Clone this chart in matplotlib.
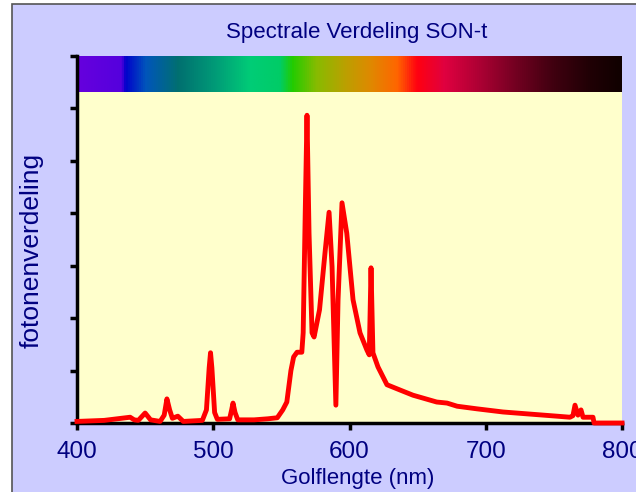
import matplotlib
matplotlib.use('Agg')
import matplotlib.pyplot as plt
from matplotlib.colors import LinearSegmentedColormap
from matplotlib.patches import Rectangle
import numpy as np

# golflengte (nm) en fotonenverdeling
golflengte = [400, 420, 439, 442, 445, 450, 454, 461, 464, 466, 468, 470, 474, 478,
              492, 495, 497, 498, 499, 501, 503, 512, 513.5, 514.5, 516, 518,
              530, 540, 547, 551, 554, 557, 559, 561.5, 565, 566, 567.5, 568.8,
              570.3, 572.5, 574, 578, 582, 585, 587.2, 590, 591.6, 594.5, 598,
              602.6, 607.7, 612.8, 614.5, 615.8, 617.2, 620.9, 627.5, 637, 646.6,
              664, 671.6, 679, 693.6, 712.7, 732.5, 752.3, 761.8, 764, 765.5,
              767.7, 769.9, 771.4, 778.7, 779.5, 800]
fotonen = [0.03, 0.05, 0.11, 0.06, 0.05, 0.19, 0.06, 0.03, 0.15, 0.46, 0.25, 0.09, 0.13, 0.03,
           0.05, 0.25, 1.05, 1.34, 1.05, 0.20, 0.07, 0.08, 0.25, 0.38, 0.20, 0.06,
           0.06, 0.08, 0.10, 0.25, 0.40, 1.00, 1.26, 1.35, 1.35, 1.72, 4.0, 5.87,
           3.62, 1.72, 1.64, 2.16, 3.24, 4.02, 2.98, 0.34, 2.35, 4.20, 3.62,
           2.35, 1.72, 1.39, 1.30, 2.96, 1.34, 1.07, 0.73, 0.63, 0.53,
           0.40, 0.38, 0.32, 0.27, 0.21, 0.17, 0.13, 0.11, 0.14, 0.34,
           0.15, 0.25, 0.11, 0.11, 0.0, 0.0]

# kleuren van de spectrumbalk
spectrum_nm = [400, 432, 435, 450, 474, 500, 527, 549, 558, 576, 597, 616, 635, 650,
               670, 697, 724, 750, 777, 800]
spectrum_kleur = ['#6600dd', '#5500dd', '#0000cc', '#0055bb', '#007070', '#009977',
                  '#00cc77', '#00cc66', '#22cc00', '#88bb00', '#bba000', '#e08800',
                  '#ff6600', '#ff0011', '#e00040', '#aa0033', '#700020', '#400010',
                  '#200005', '#100000']

xticks = [400, 500, 600, 700, 800]
yticks = list(range(8))

navy = '#000080'
smal = ['Liberation Sans Narrow', 'Liberation Sans', 'DejaVu Sans']
plt.rcParams['font.family'] = smal

fig = plt.figure(figsize=(6.36, 4.92), dpi=100)
fig.patch.set_facecolor('white')
achtergrond = Rectangle((12 / 636, -0.1), 1.2, 1.1 - 4 / 492, transform=fig.transFigure,
                        facecolor='#ccccff', edgecolor='#555555', linewidth=1.2, zorder=-10)
fig.add_artist(achtergrond)

ax = fig.add_axes([77 / 636, 1 - 423 / 492, 545 / 636, 367 / 492])
ax.set_zorder(1)
ax.set_facecolor('#ffffcc')

pos = [(n - 400) / 400 for n in spectrum_nm]
cmap = LinearSegmentedColormap.from_list('spec', list(zip(pos, spectrum_kleur)))
ax.imshow(np.linspace(0, 1, 512).reshape(1, -1), cmap=cmap, aspect='auto',
          extent=[400, 800, 6.31, 7], zorder=1)

ax.plot(golflengte, fotonen, color='#ff0000', linewidth=3.5, solid_joinstyle='round',
        clip_on=False, zorder=3)

ax.set_xlim(400, 800)
ax.set_ylim(0, 7)
ax.set_xticks(xticks)
ax.set_yticks(yticks)
ax.set_yticklabels([])
ax.tick_params(axis='both', direction='out', length=5, width=2.5, color='black',
               labelsize=17.5, labelcolor=navy, pad=8)
for s in ['top', 'right']:
    ax.spines[s].set_visible(False)
for s in ['left', 'bottom']:
    ax.spines[s].set_linewidth(2.5)
ax.spines['bottom'].set_zorder(2)

ax.set_xlabel('Golflengte (nm)', fontsize=16, color=navy)
ax.xaxis.set_label_coords(0.515, -0.123)
ax.set_ylabel('fotonenverdeling', fontsize=19, color=navy,
              family=['Liberation Sans', 'DejaVu Sans'])
ax.yaxis.set_label_coords(-0.062, 0.47)
fig.text(357 / 636, 1 - 38.3 / 492, 'Spectrale Verdeling SON-t', fontsize=16, color=navy,
         ha='center', va='baseline')

fig.savefig('out.png', dpi=100)
